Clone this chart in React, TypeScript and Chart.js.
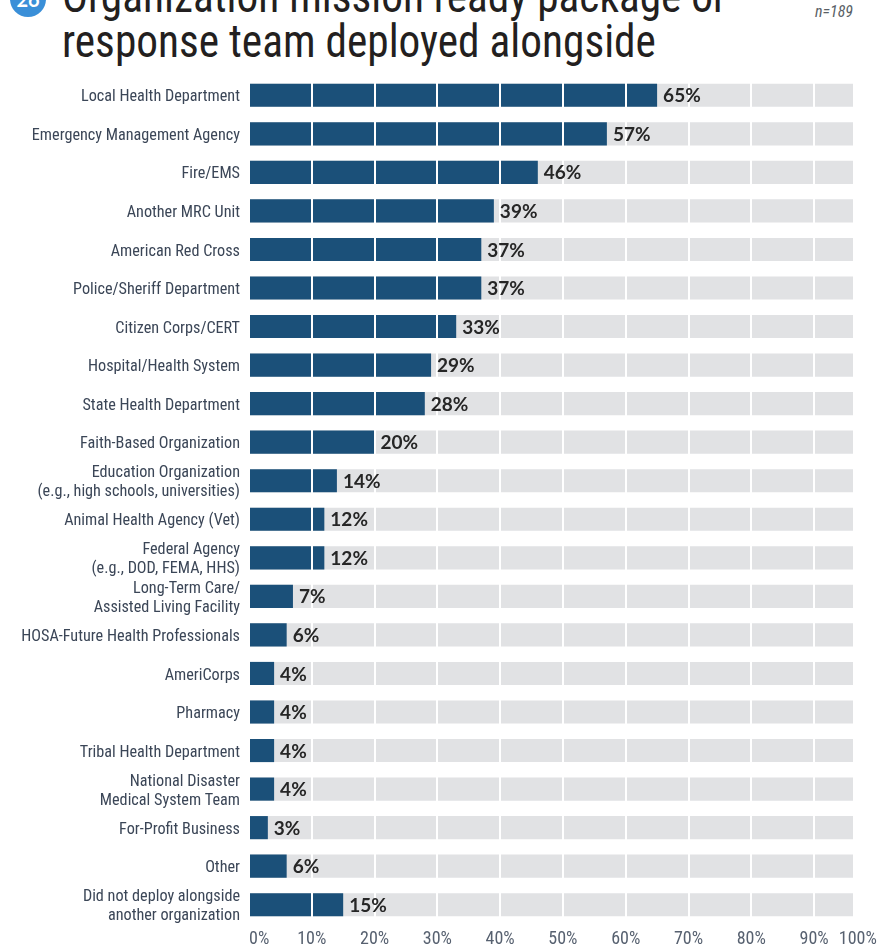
import React, { useEffect, useRef } from 'react';
import { Chart, registerables } from 'chart.js';

Chart.register(...registerables);

const categories: (string | string[])[] = [
  'Local Health Department',
  'Emergency Management Agency',
  'Fire/EMS',
  'Another MRC Unit',
  'American Red Cross',
  'Police/Sheriff Department',
  'Citizen Corps/CERT',
  'Hospital/Health System',
  'State Health Department',
  'Faith-Based Organization',
  ['Education Organization', '(e.g., high schools, universities)'],
  'Animal Health Agency (Vet)',
  ['Federal Agency', '(e.g., DOD, FEMA, HHS)'],
  ['Long-Term Care/', 'Assisted Living Facility'],
  'HOSA-Future Health Professionals',
  'AmeriCorps',
  'Pharmacy',
  'Tribal Health Department',
  ['National Disaster', 'Medical System Team'],
  'For-Profit Business',
  'Other',
  ['Did not deploy alongside', 'another organization'],
];

const percentValues = [65, 57, 46, 39, 37, 37, 33, 29, 28, 20, 14, 12, 12, 7, 6, 4, 4, 4, 4, 3, 6, 15];

const tickValues = [0, 10, 20, 30, 40, 50, 60, 70, 80, 90, 100];
const tickLabels = ['0%', '10%', '20%', '30%', '40%', '50%', '60%', '70%', '80%', '90%', '100%'];

const AXIS_MAX = 96.2;
const NARROW = "'Liberation Sans Narrow', 'Roboto Condensed', 'DejaVu Sans Condensed', sans-serif";
const BAR_BLUE = '#1b5079';
const TRACK_GRAY = '#e1e2e4';

const valueLabelPlugin = {
  id: 'valueLabels',
  afterDraw(chart: any) {
    const meta = chart.getDatasetMeta(0);
    const ctx = chart.ctx;
    ctx.save();
    ctx.font = "bold 19px Lato, 'Open Sans', sans-serif";
    ctx.fillStyle = '#262626';
    ctx.textAlign = 'left';
    ctx.textBaseline = 'middle';
    meta.data.forEach((bar: any, i: number) => {
      ctx.fillText(percentValues[i] + '%', bar.x + 6, bar.y + 1);
    });
    ctx.restore();
  },
};

export default function App() {
  const ref = useRef<HTMLCanvasElement>(null);

  useEffect(() => {
    const chart = new Chart(ref.current as HTMLCanvasElement, {
      type: 'bar',
      data: {
        labels: categories,
        datasets: [
          {
            data: percentValues,
            backgroundColor: BAR_BLUE,
            barPercentage: 0.6,
            categoryPercentage: 1,
            grouped: false,
            order: 0,
          },
          {
            data: percentValues.map(() => AXIS_MAX),
            backgroundColor: TRACK_GRAY,
            barPercentage: 0.6,
            categoryPercentage: 1,
            grouped: false,
            order: 1,
          },
        ],
      },
      options: {
        indexAxis: 'y',
        responsive: false,
        animation: false,
        events: [],
        layout: { padding: { top: 76, right: 24, left: 0, bottom: 0 } },
        plugins: {
          legend: { display: false },
          tooltip: { enabled: false },
        },
        scales: {
          x: {
            min: 0,
            max: AXIS_MAX,
            border: { display: false },
            grid: {
              z: 1,
              drawTicks: false,
              lineWidth: 2,
              color: (c: any) =>
                c.index === 0 || c.index === tickValues.length - 1 ? 'rgba(0,0,0,0)' : '#ffffff',
            },
            afterBuildTicks: (scale: any) => {
              scale.ticks = tickValues.map((v) => ({ value: v }));
            },
            afterFit: (scale: any) => {
              scale.height = 22;
              scale.paddingLeft = 0;
              scale.paddingRight = 0;
            },
            ticks: {
              align: 'inner',
              padding: 5,
              color: '#576170',
              font: { family: NARROW, size: 18 },
              callback: (_v: any, i: number) => tickLabels[i],
            },
          },
          y: {
            border: { display: false },
            grid: { display: false, drawTicks: false },
            afterFit: (scale: any) => {
              scale.width = 249;
            },
            ticks: {
              autoSkip: false,
              padding: 9,
              labelOffset: 2,
              color: '#3b4657',
              font: { family: NARROW, size: 16.2, lineHeight: 1.16 },
            },
          },
        },
      },
      plugins: [valueLabelPlugin],
    } as any);
    return () => chart.destroy();
  }, []);

  return (
    <div
      style={{
        position: 'absolute',
        left: 0,
        top: 0,
        width: 877,
        height: 946,
        overflow: 'hidden',
        background: '#ffffff',
      }}
    >
      <div
        style={{
          position: 'absolute',
          left: 10,
          top: -19,
          width: 36,
          height: 36,
          borderRadius: 18,
          background: '#3a8fd8',
          color: '#ffffff',
          fontFamily: "Lato, 'Open Sans', sans-serif",
          fontWeight: 700,
          fontSize: 20,
          lineHeight: '36px',
          textAlign: 'center',
        }}
      >
        26
      </div>
      <div
        style={{
          position: 'absolute',
          left: 62,
          top: -27,
          fontFamily: NARROW,
          fontSize: 47,
          lineHeight: '45px',
          color: '#231f20',
          whiteSpace: 'nowrap',
          transform: 'scaleX(0.922)',
          transformOrigin: 'left top',
        }}
      >
        Organization mission ready package or
        <br />
        response team deployed alongside
      </div>
      <div
        style={{
          position: 'absolute',
          right: 24,
          top: 2,
          fontFamily: NARROW,
          fontStyle: 'italic',
          fontSize: 16,
          color: '#5a5f66',
        }}
      >
        n=189
      </div>
      <canvas
        ref={ref}
        width={877}
        height={946}
        style={{ position: 'absolute', left: 0, top: 0 }}
      />
    </div>
  );
}
